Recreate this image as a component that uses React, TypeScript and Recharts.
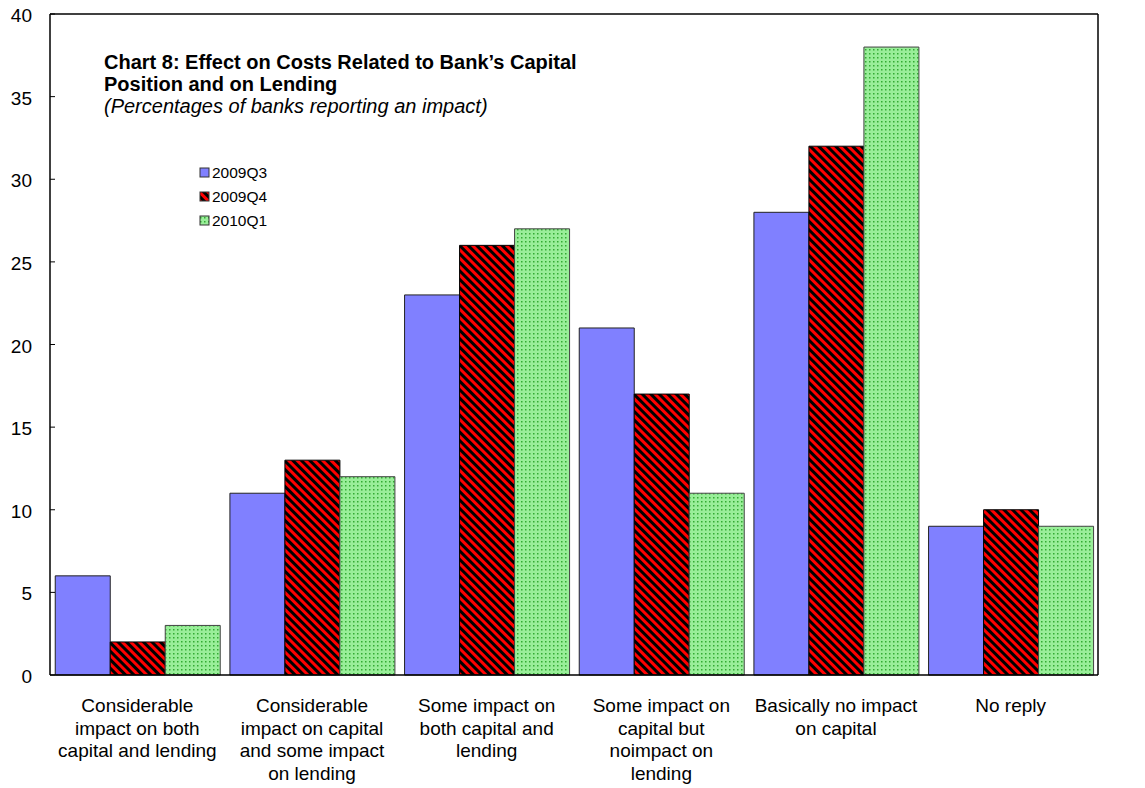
import React from 'react';
import { BarChart, Bar, XAxis, YAxis, ReferenceLine } from 'recharts';

const categories = [
  'Considerable|impact on both|capital and lending',
  'Considerable|impact on capital|and some impact|on lending',
  'Some impact on|both capital and|lending',
  'Some impact on|capital but|noimpact on|lending',
  'Basically no impact|on capital',
  'No reply',
];
const q3_2009 = [6, 11, 23, 21, 28, 9];
const q4_2009 = [2, 13, 26, 17, 32, 10];
const q1_2010 = [3, 12, 27, 11, 38, 9];
const yTicks = [0, 5, 10, 15, 20, 25, 30, 35, 40];
const seriesNames = ['2009Q3', '2009Q4', '2010Q1'];

const data = categories.map((c, i) => ({
  cat: c,
  a: q3_2009[i],
  b: q4_2009[i],
  c: q1_2010[i],
}));

const FONT = '"Liberation Sans", Arial, sans-serif';

const XTick = (props: any) => {
  const { x, y, payload } = props;
  const lines = String(payload.value).split('|');
  return (
    <g>
      {lines.map((l: string, i: number) => (
        <text key={i} x={x} y={y + 29 + i * 22.5} textAnchor="middle" fontSize={19} fontFamily={FONT} fill="#000">
          {l}
        </text>
      ))}
    </g>
  );
};

const LeftTick = (props: any) => {
  const { x, y, payload } = props;
  return (
    <g>
      <line x1={x + 18} x2={x + 23} y1={y} y2={y} stroke="#000" />
      <text x={x} y={y + 8} textAnchor="end" fontSize={19} fontFamily={FONT} fill="#000">{payload.value}</text>
    </g>
  );
};

const RightTick = (props: any) => {
  const { x, y, payload } = props;
  return (
    <g>
      <line x1={x - 17} x2={x - 22} y1={y} y2={y} stroke="#000" />
      <text x={x} y={y + 8} textAnchor="start" fontSize={19} fontFamily={FONT} fill="#000">{payload.value}</text>
    </g>
  );
};

const legendSwatches = ['#8080FF', 'url(#hatchRed)', 'url(#dotGreen)'];

export default function App() {
  return (
    <div style={{ position: 'absolute', left: 0, top: 0, width: 1145, height: 788, background: '#fff', fontFamily: FONT }}>
      <BarChart
        width={1145}
        height={788}
        data={data}
        margin={{ top: 14, right: 0, bottom: 0, left: 0 }}
        barCategoryGap="3%"
        barGap={0}
      >
        <defs>
          <pattern id="hatchRed" patternUnits="userSpaceOnUse" width="6" height="6" patternTransform="rotate(-45)">
            <rect x="0" y="0" width="6" height="6" fill="#FF0000" />
            <rect x="0" y="0" width="3" height="6" fill="#000" />
          </pattern>
          <pattern id="dotGreen" patternUnits="userSpaceOnUse" width="4" height="4">
            <rect x="0" y="0" width="4" height="4" fill="#99EE99" />
            <rect x="1" y="1" width="1.5" height="1.5" fill="#33AA33" />
          </pattern>
        </defs>
        <XAxis
          dataKey="cat"
          height={113}
          tick={<XTick />}
          tickLine={false}
          axisLine={{ stroke: '#000', strokeWidth: 1.5 }}
          interval={0}
        />
        <YAxis
          yAxisId="left"
          orientation="left"
          width={50}
          domain={[0, 40]}
          ticks={yTicks}
          tickSize={0}
          tickMargin={18}
          tickLine={false}
          tick={<LeftTick />}
          axisLine={{ stroke: '#000', strokeWidth: 1.5 }}
        />
        <YAxis
          yAxisId="right"
          orientation="right"
          width={47}
          domain={[0, 40]}
          ticks={yTicks}
          tickSize={0}
          tickMargin={17}
          tickLine={false}
          tick={<RightTick />}
          axisLine={{ stroke: '#000', strokeWidth: 1.5 }}
        />
        <ReferenceLine yAxisId="left" y={40} stroke="#000" strokeWidth={1.5} />
        <Bar yAxisId="left" dataKey="a" name={seriesNames[0]} fill="#8080FF" stroke="#222" strokeWidth={1} isAnimationActive={false} />
        <Bar yAxisId="left" dataKey="b" name={seriesNames[1]} fill="url(#hatchRed)" stroke="#000" strokeWidth={1} isAnimationActive={false} />
        <Bar yAxisId="left" dataKey="c" name={seriesNames[2]} fill="url(#dotGreen)" stroke="#444" strokeWidth={1} isAnimationActive={false} />
      </BarChart>
      <div style={{ position: 'absolute', left: 104, top: 50.5, fontSize: 20, lineHeight: '22px', color: '#000', whiteSpace: 'nowrap' }}>
        <div style={{ fontWeight: 'bold' }}>Chart 8: Effect on Costs Related to Bank’s Capital</div>
        <div style={{ fontWeight: 'bold' }}>Position and on Lending</div>
        <div style={{ fontStyle: 'italic' }}>(Percentages of banks reporting an impact)</div>
      </div>
      <svg style={{ position: 'absolute', left: 195, top: 160 }} width={120} height={75}>
        {seriesNames.map((n, i) => (
          <g key={n}>
            <rect x={5} y={8 + i * 24} width={9} height={9} fill={legendSwatches[i]} stroke="#333" strokeWidth={1} />
            <text x={17} y={18 + i * 24} fontSize={15.5} fontFamily={FONT} fill="#000">{n}</text>
          </g>
        ))}
      </svg>
    </div>
  );
}
